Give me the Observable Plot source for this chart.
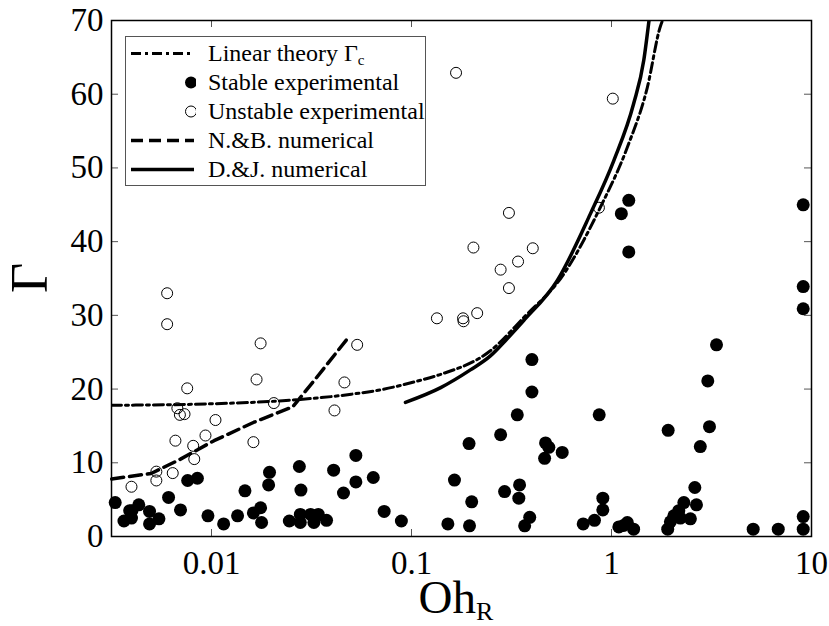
<!DOCTYPE html>
<html>
<head>
<meta charset="utf-8">
<script src="https://cdn.jsdelivr.net/npm/d3@7"></script>
<script src="https://cdn.jsdelivr.net/npm/@observablehq/plot@0.6"></script>
<style>
  body { margin: 0; background: #fff; }
  #wrap { position: relative; width: 829px; height: 626px; font-family: "Liberation Serif", "Times New Roman", serif; }
  #wrap svg text { font-family: "Liberation Serif", "Times New Roman", serif; }
  #legend { position: absolute; left: 125px; top: 36px; width: 301px; height: 150px; border: 1px solid #555; background: #fff; box-sizing: border-box; }
  .row { position: absolute; left: 0; height: 29px; display: flex; align-items: center; }
  .row svg { display: block; }
  .row span { font-size: 24px; line-height: 29px; margin-left: 12px; color: #000; white-space: nowrap; }
  sub { font-size: 15px; vertical-align: -4px; line-height: 0; }
</style>
</head>
<body>
<div id="wrap"></div>
<script>
// ---- data ----
const stableOh = [0.0033,0.00365,0.00398,0.0040,0.00433,0.0039,0.0049,0.0049,0.00546,0.0061,0.007,0.0076,0.0085,0.0096,0.0115,0.0135,0.0147,0.0162,0.0176,0.0178,0.0195,0.0193,0.0275,0.028,0.0245,0.0278,0.0278,0.0313,0.0325,0.0342,0.0376,0.0408,0.0457,0.0527,0.0527,0.0644,0.073,0.089,
  0.152,0.164,0.195,0.2,0.194,0.279,0.292,0.338,0.347,0.344,0.39,0.368,0.4,0.4,0.468,0.486,0.463,0.567,0.722,0.822,0.905,0.905,0.868,1.088,1.2,1.29,1.15,
  9.09,9.09,3.35,3.03,3.09,2.78,1.92,2.61,2.66,2.3,2.17,2.05,1.97,1.91,2.48,2.21,5.11,6.82,9.09,9.09,9.09,1.22,1.12,1.22];
const stableGamma = [4.6,2.1,2.5,3.5,4.3,3.5,3.4,1.7,2.4,5.3,3.6,7.6,7.9,2.8,1.7,2.8,6.2,3.2,3.9,1.9,8.7,7.0,9.5,6.3,2.1,3.0,1.9,3.0,1.9,3.0,2.2,9.0,5.9,11.0,7.4,8.0,3.4,2.1,
  1.7,7.65,1.45,4.7,12.6,13.8,6.1,16.5,7.0,5.2,2.6,1.45,24.0,19.6,12.7,12.1,10.6,11.4,1.7,2.2,5.2,3.6,16.5,1.3,1.9,1.0,1.5,
  33.9,30.9,26.0,21.1,14.9,12.2,14.4,6.65,4.3,4.6,3.5,2.8,2.0,1.0,2.4,2.5,1.0,1.0,2.7,1.0,45.0,45.6,43.8,38.6];

const unstableOh = [0.006,0.006,0.00756,0.00675,0.00695,0.00733,0.01047,0.00933,0.0066,0.0081,0.0082,0.0053,0.0053,0.0064,0.00398,0.0176,0.0168,0.0205,0.0162,0.0412,0.0462,0.0535,
  0.307,0.134,0.181,0.182,0.213,0.167,1.015,0.307,0.204,0.404,0.341,0.279,0.865];
const unstableGamma = [33.0,28.8,20.1,17.4,16.5,16.6,15.8,13.7,13.0,12.3,10.5,8.8,7.6,8.6,6.75,26.2,21.3,18.1,12.8,17.1,20.9,26.0,
  33.7,29.6,29.6,29.2,30.3,62.9,59.4,43.9,39.2,39.1,37.3,36.2,44.6];

const linearOh    = [0.00316,0.01,0.025,0.05,0.07,0.111,0.14,0.248,0.364,0.577,0.881,1.2,1.51,1.76,1.8];
const linearGamma = [17.8,18.0,18.5,19.3,19.9,21.2,22.0,25.2,29.7,35.6,44.7,52.8,60.9,69.3,70];

const nbOh    = [0.00317,0.00499,0.007,0.0103,0.0163,0.0255,0.0325,0.049];
const nbGamma = [7.8,8.55,10.5,13.0,15.5,17.6,21.1,27.2];

const djOh    = [0.0933,0.14,0.197,0.248,0.3,0.364,0.535,0.785,1.027,1.29,1.45,1.54];
const djGamma = [18.2,20.2,22.6,24.5,26.8,29.3,34.7,43.8,51.0,58.7,64.6,70];

const xTicks = [0.01, 0.1, 1, 10];
const xTickLabels = ["0.01", "0.1", "1", "10"];
const yTicks = [0, 10, 20, 30, 40, 50, 60, 70];

// ---- tables ----
const zip = (xs, ys) => xs.map((x, i) => ({x, y: ys[i]}));
const stable = zip(stableOh, stableGamma);
const unstable = zip(unstableOh, unstableGamma);
const linear = zip(linearOh, linearGamma);
const nb = zip(nbOh, nbGamma);
const dj = zip(djOh, djGamma);

const FONT = "Liberation Serif, Times New Roman, serif";
const xDomain = [Math.pow(10, -2.5), 10];
const yDomain = [0, 70];
const W = 829, H = 626, mL = 111, mR = 18, mT = 20, mB = 90;
const tickPx = 7;
const yTickLen = tickPx * (yDomain[1] - yDomain[0]) / (H - mT - mB);
const xTickFac = Math.pow(xDomain[1] / xDomain[0], tickPx / (W - mL - mR));
const innerX = xTicks.filter(t => t > xDomain[0] && t < xDomain[1]);
const innerY = yTicks.filter(t => t > yDomain[0] && t < yDomain[1]);

const chart = Plot.plot({
  width: W, height: H,
  marginLeft: mL, marginRight: mR, marginTop: mT, marginBottom: mB,
  x: {type: "log", domain: xDomain},
  y: {domain: yDomain},
  style: {fontFamily: FONT, background: "white", color: "black", overflow: "visible"},
  marks: [
    Plot.line(linear, {x: "x", y: "y", stroke: "black", strokeWidth: 3, strokeDasharray: "10,4,3,4", curve: "monotone-x", clip: true}),
    Plot.line(nb, {x: "x", y: "y", stroke: "black", strokeWidth: 3.5, strokeDasharray: "12,6"}),
    Plot.line(dj, {x: "x", y: "y", stroke: "black", strokeWidth: 3.5, curve: "monotone-x", clip: true}),
    Plot.dot(stable, {x: "x", y: "y", r: 6.5, fill: "black", stroke: "none"}),
    Plot.dot(unstable, {x: "x", y: "y", r: 5.5, fill: "none", stroke: "black", strokeWidth: 1}),
    Plot.ruleX(innerX, {x: d => d, y1: yDomain[0], y2: yDomain[0] + yTickLen, stroke: "#555", strokeWidth: 1}),
    Plot.ruleX(innerX, {x: d => d, y1: yDomain[1], y2: yDomain[1] - yTickLen, stroke: "#555", strokeWidth: 1}),
    Plot.ruleY(innerY, {y: d => d, x1: xDomain[0], x2: xDomain[0] * xTickFac, stroke: "#555", strokeWidth: 1}),
    Plot.ruleY(innerY, {y: d => d, x1: xDomain[1], x2: xDomain[1] / xTickFac, stroke: "#555", strokeWidth: 1}),
    Plot.frame({stroke: "black", strokeWidth: 1.5}),
    Plot.axisX(xTicks, {tickSize: 0, tickPadding: 14, fontSize: 33, fontFamily: FONT, tickFormat: (d) => xTickLabels[xTicks.indexOf(d)], label: null}),
    Plot.axisY(yTicks, {tickSize: 0, tickPadding: 8, fontSize: 33, fontFamily: FONT, tickFormat: d => String(d), label: null})
  ]
});

const svg = d3.select(chart);
// axis titles
const xt = svg.append("text")
  .attr("x", (mL + W - mR) / 2 - 5)
  .attr("y", 613)
  .attr("text-anchor", "middle")
  .attr("font-family", FONT)
  .attr("font-size", 47)
  .attr("fill", "black");
xt.append("tspan").text("Oh");
xt.append("tspan").attr("font-size", 26).attr("dy", 7).text("R");

svg.append("text")
  .attr("transform", `translate(47,${(mT + H - mB) / 2}) rotate(-90)`)
  .attr("text-anchor", "middle")
  .attr("font-family", FONT)
  .attr("font-size", 52)
  .attr("fill", "black")
  .text("Γ");

const wrap = document.getElementById("wrap");
wrap.appendChild(chart);

// legend
const legend = document.createElement("div");
legend.id = "legend";
wrap.appendChild(legend);
const entries = [
  {kind: "dashdot", html: "Linear theory Γ<sub>c</sub>"},
  {kind: "filled", html: "Stable experimental"},
  {kind: "open", html: "Unstable experimental"},
  {kind: "dashed", html: "N.&amp;B. numerical"},
  {kind: "solid", html: "D.&amp;J. numerical"}
];
entries.forEach((e, i) => {
  const row = document.createElement("div");
  row.className = "row";
  row.style.top = (1.5 + i * 29) + "px";
  row.style.left = "4px";
  let sample = "";
  if (e.kind === "dashdot") sample = '<line x1="1" y1="14.5" x2="64" y2="14.5" stroke="black" stroke-width="3" stroke-dasharray="10,4,3,4"/>';
  if (e.kind === "dashed") sample = '<line x1="1" y1="14.5" x2="64" y2="14.5" stroke="black" stroke-width="3.5" stroke-dasharray="12,6"/>';
  if (e.kind === "solid") sample = '<line x1="1" y1="14.5" x2="64" y2="14.5" stroke="black" stroke-width="3.5"/>';
  if (e.kind === "filled") sample = '<circle cx="61" cy="14.5" r="6" fill="black"/>';
  if (e.kind === "open") sample = '<circle cx="61" cy="14.5" r="5.5" fill="none" stroke="black" stroke-width="1"/>';
  row.innerHTML = `<svg width="66" height="29">${sample}</svg><span>${e.html}</span>`;
  legend.appendChild(row);
});
</script>
</body>
</html>
